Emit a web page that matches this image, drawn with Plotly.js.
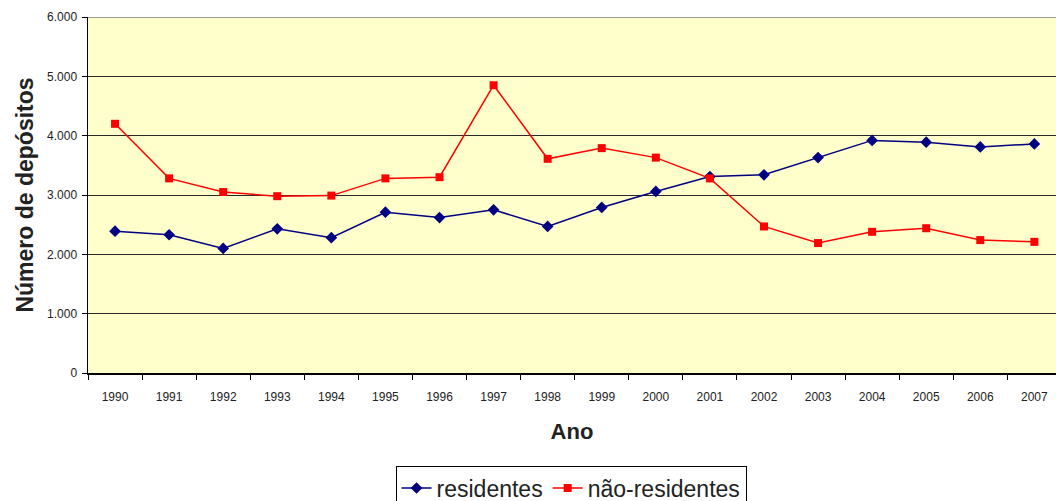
<!DOCTYPE html>
<html><head><meta charset="utf-8">
<script src="https://cdn.plot.ly/plotly-3.0.1.min.js"></script>
<style>html,body{margin:0;padding:0;background:#fff}#chart{width:1056px;height:501px}</style>
</head><body><div id="chart"></div>
<script>
const years = ['1990','1991','1992','1993','1994','1995','1996','1997','1998','1999','2000','2001','2002','2003','2004','2005','2006','2007'];
const residentes = [2390,2330,2100,2430,2280,2710,2620,2750,2470,2790,3060,3310,3340,3630,3920,3890,3810,3860];
const naoResidentes = [4200,3280,3050,2980,2990,3280,3300,4850,3610,3790,3630,3280,2470,2190,2380,2440,2240,2210];
const yTicks = [0,1000,2000,3000,4000,5000,6000];

const traces = [
  {x: years, y: residentes, name: 'residentes', type: 'scatter', mode: 'lines+markers',
   line: {color: '#000080', width: 1.5}, marker: {symbol: 'diamond', size: 9, color: '#000080'}},
  {x: years, y: naoResidentes, name: 'não-residentes', type: 'scatter', mode: 'lines+markers',
   line: {color: '#FF0000', width: 1.5}, marker: {symbol: 'square', size: 8, color: '#FF0000'}}
];
const layout = {
  width: 1056, height: 501,
  margin: {l: 88, r: 0, t: 17, b: 128, autoexpand: false},
  paper_bgcolor: '#ffffff', plot_bgcolor: '#FFFFCC',
  separators: ',.',
  font: {family: 'Liberation Sans, Arial, sans-serif', color: '#222'},
  showlegend: true,
  legend: {orientation: 'h', x: 0.499, xanchor: 'center', y: -0.26, yanchor: 'top',
    bordercolor: '#000', borderwidth: 1, bgcolor: '#fff', font: {size: 23, color: '#222'},
    itemwidth: 30, tracegroupgap: 0},
  xaxis: {type: 'category', range: [-0.5, 17.4], tickson: 'boundaries', ticks: 'outside', ticklen: 5,
    automargin: false,
    tickcolor: '#000', showline: true, linecolor: '#000', linewidth: 1.5, showgrid: false, zeroline: false,
    ticklabelstandoff: 12,
    tickfont: {size: 12, color: '#222'},
    title: {text: '<b>Ano</b>', font: {size: 22, color: '#222'}, standoff: 20}},
  yaxis: {range: [0, 6000], tickvals: yTicks, tickformat: ',d', ticks: 'outside', ticklen: 5, tickcolor: '#000',
    automargin: false,
    showline: true, linecolor: '#000', linewidth: 1.5, showgrid: true, gridcolor: '#2a2a2a', gridwidth: 1,
    zeroline: false, tickfont: {size: 12, color: '#222'}, ticklabelstandoff: 2,
    title: {text: '<b>Número de depósitos</b>', font: {size: 23, color: '#222'}, standoff: 7}},
  shapes: [{type: 'line', xref: 'paper', yref: 'y', x0: 0, x1: 1, y0: 6000, y1: 6000,
    line: {color: '#999', width: 2}, layer: 'above'}]
};
Plotly.newPlot('chart', traces, layout, {displayModeBar: false, staticPlot: true});
</script></body></html>
